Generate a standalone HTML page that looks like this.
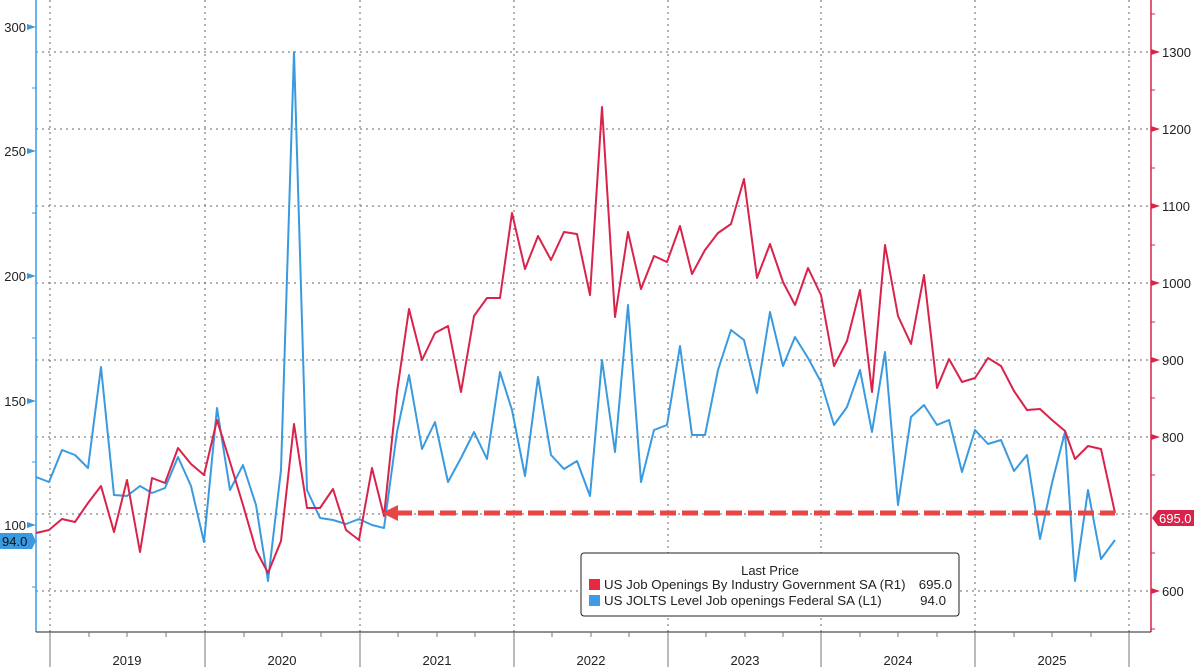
<!DOCTYPE html>
<html><head><meta charset="utf-8"><style>
html,body{margin:0;padding:0;background:#fff;}
svg text{font-family:"Liberation Sans","DejaVu Sans",sans-serif;}
</style></head><body>
<svg width="1194" height="667" viewBox="0 0 1194 667" xmlns="http://www.w3.org/2000/svg">
<rect width="1194" height="667" fill="#fff"/>
<g stroke="#666" stroke-width="1" stroke-dasharray="2,4" fill="none">
<line x1="36" y1="52" x2="1151" y2="52"/><line x1="36" y1="129" x2="1151" y2="129"/>
<line x1="36" y1="206" x2="1151" y2="206"/><line x1="36" y1="283" x2="1151" y2="283"/>
<line x1="36" y1="360" x2="1151" y2="360"/><line x1="36" y1="437" x2="1151" y2="437"/>
<line x1="36" y1="514" x2="1151" y2="514"/><line x1="36" y1="591" x2="1151" y2="591"/>
<line x1="50" y1="0" x2="50" y2="632"/><line x1="205" y1="0" x2="205" y2="632"/>
<line x1="360" y1="0" x2="360" y2="632"/><line x1="514" y1="0" x2="514" y2="632"/>
<line x1="668" y1="0" x2="668" y2="632"/><line x1="821" y1="0" x2="821" y2="632"/>
<line x1="975" y1="0" x2="975" y2="632"/><line x1="1129" y1="0" x2="1129" y2="632"/>
</g>
<line x1="36" y1="0" x2="36" y2="632" stroke="#3a9ae0" stroke-width="1.5"/>
<line x1="1151" y1="0" x2="1151" y2="632" stroke="#d9234a" stroke-width="1.5"/>
<line x1="36" y1="632" x2="1151" y2="632" stroke="#222" stroke-width="1"/>
<g stroke="#777" stroke-width="1">
<line x1="50" y1="632" x2="50" y2="667"/><line x1="205" y1="632" x2="205" y2="667"/>
<line x1="360" y1="632" x2="360" y2="667"/><line x1="514" y1="632" x2="514" y2="667"/>
<line x1="668" y1="632" x2="668" y2="667"/><line x1="821" y1="632" x2="821" y2="667"/>
<line x1="975" y1="632" x2="975" y2="667"/><line x1="1129" y1="632" x2="1129" y2="667"/>
<line x1="89" y1="632" x2="89" y2="637"/><line x1="127" y1="632" x2="127" y2="637"/><line x1="166" y1="632" x2="166" y2="637"/>
<line x1="244" y1="632" x2="244" y2="637"/><line x1="282" y1="632" x2="282" y2="637"/><line x1="321" y1="632" x2="321" y2="637"/>
<line x1="398" y1="632" x2="398" y2="637"/><line x1="437" y1="632" x2="437" y2="637"/><line x1="475" y1="632" x2="475" y2="637"/>
<line x1="552" y1="632" x2="552" y2="637"/><line x1="591" y1="632" x2="591" y2="637"/><line x1="629" y1="632" x2="629" y2="637"/>
<line x1="706" y1="632" x2="706" y2="637"/><line x1="745" y1="632" x2="745" y2="637"/><line x1="783" y1="632" x2="783" y2="637"/>
<line x1="860" y1="632" x2="860" y2="637"/><line x1="898" y1="632" x2="898" y2="637"/><line x1="937" y1="632" x2="937" y2="637"/>
<line x1="1014" y1="632" x2="1014" y2="637"/><line x1="1052" y1="632" x2="1052" y2="637"/><line x1="1091" y1="632" x2="1091" y2="637"/>
</g>
<g font-size="13" fill="#222" text-anchor="middle">
<text x="127" y="665">2019</text><text x="282" y="665">2020</text><text x="437" y="665">2021</text>
<text x="591" y="665">2022</text><text x="745" y="665">2023</text><text x="898" y="665">2024</text><text x="1052" y="665">2025</text>
</g>
<g font-size="13" fill="#222" text-anchor="end">
<text x="26" y="32">300</text><text x="26" y="156">250</text><text x="26" y="281">200</text><text x="26" y="406">150</text><text x="26" y="530">100</text>
</g>
<g fill="#3a9ae0">
<polygon points="27,24 36,27 27,30"/><polygon points="27,148 36,151 27,154"/><polygon points="27,273 36,276 27,279"/><polygon points="27,398 36,401 27,404"/><polygon points="27,522 36,525 27,528"/>
</g>
<g stroke="#3a9ae0"><line x1="32" y1="88" x2="36" y2="88"/><line x1="32" y1="213" x2="36" y2="213"/><line x1="32" y1="338" x2="36" y2="338"/><line x1="32" y1="462" x2="36" y2="462"/><line x1="32" y1="587" x2="36" y2="587"/></g>
<g font-size="13" fill="#222">
<text x="1162" y="57">1300</text><text x="1162" y="134">1200</text><text x="1162" y="211">1100</text><text x="1162" y="288">1000</text><text x="1162" y="365">900</text><text x="1162" y="442">800</text><text x="1162" y="596">600</text>
</g>
<g fill="#d9234a">
<polygon points="1151,49 1160,52 1151,55"/><polygon points="1151,126 1160,129 1151,132"/><polygon points="1151,203 1160,206 1151,209"/><polygon points="1151,280 1160,283 1151,286"/><polygon points="1151,357 1160,360 1151,363"/><polygon points="1151,434 1160,437 1151,440"/><polygon points="1151,588 1160,591 1151,594"/>
</g>
<g stroke="#d9234a"><line x1="1151" y1="14" x2="1155" y2="14"/><line x1="1151" y1="90" x2="1155" y2="90"/><line x1="1151" y1="168" x2="1155" y2="168"/><line x1="1151" y1="245" x2="1155" y2="245"/><line x1="1151" y1="322" x2="1155" y2="322"/><line x1="1151" y1="398" x2="1155" y2="398"/><line x1="1151" y1="475" x2="1155" y2="475"/><line x1="1151" y1="553" x2="1155" y2="553"/><line x1="1151" y1="629" x2="1155" y2="629"/></g>
<polyline fill="none" stroke="#3a9ae0" stroke-width="2" stroke-linejoin="round" points="36,477 49,482 62,450 75,455 88,468 101,367 114,495 127,496 140,486 152,493 165,488 178,457 191,486 204,542 217,408 230,490 243,465 256,505 268,581 281,470 294,52 307,490 320,518 333,520 346,524 359,519 372,525 384,528 397,432 409,375 422,449 435,422 448,482 461,458 474,432 487,459 500,372 512,410 525,476 538,377 551,455 564,469 577,461 590,496 602,360 615,452 628,305 641,482 654,430 667,425 680,346 692,435 705,435 718,370 731,330 744,340 757,393 770,312 783,366 795,337 808,358 821,382 834,425 847,407 860,370 872,432 885,352 898,505 911,417 924,405 937,425 949,420 962,472 975,430 988,444 1001,440 1014,471 1027,455 1040,539 1052,483 1065,432 1075,581 1088,490 1101,559 1115,540"/>
<polyline fill="none" stroke="#d9234a" stroke-width="2" stroke-linejoin="round" points="36,533 49,530 62,519 75,522 88,503 101,486 114,532 127,480 140,552 152,478 165,483 178,448 191,464 204,475 217,420 230,462 243,505 256,550 268,573 281,541 294,424 307,508 320,508 333,489 346,530 359,540 372,468 384,516 397,392 409,309 422,360 435,333 448,326 461,392 474,316 487,298 500,298 512,213 525,269 538,236 551,260 564,232 577,234 590,295 602,107 615,317 628,232 641,289 654,256 667,262 680,226 692,274 705,250 718,233 731,224 744,179 757,278 770,244 783,282 795,305 808,268 821,295 834,366 847,341 860,290 872,392 885,245 898,316 911,344 924,275 937,388 949,359 962,382 975,378 988,358 1001,366 1014,391 1027,410 1040,409 1052,420 1065,431 1075,459 1088,446 1101,449 1115,513"/>
<line x1="396" y1="513" x2="1115" y2="513" stroke="#e84545" stroke-width="5" stroke-dasharray="16,6"/>
<polygon points="382,513 398,505 398,521" fill="#e84545"/>
<polygon points="0,533 32,533 36,541 32,549 0,549" fill="#3a9ae0"/>
<text x="2" y="546" font-size="13" fill="#111">94.0</text>
<polygon points="1152,518 1158,510 1194,510 1194,526 1158,526" fill="#d9234a"/>
<text x="1159" y="523" font-size="13" fill="#fff">695.0</text>
<rect x="581" y="553" width="378" height="63" rx="3" fill="#fff" stroke="#222" stroke-width="1"/>
<text x="770" y="575" font-size="13" fill="#222" text-anchor="middle">Last Price</text>
<rect x="589" y="579" width="11" height="11" fill="#e8283f"/>
<rect x="589" y="595" width="11" height="11" fill="#3d9be9"/>
<g font-size="13.3" fill="#222">
<text x="604" y="589">US Job Openings By Industry Government SA  (R1)</text>
<text x="952" y="589" text-anchor="end">695.0</text>
<text x="604" y="605">US JOLTS Level Job openings Federal SA  (L1)</text>
<text x="946" y="605" text-anchor="end">94.0</text>
</g>
</svg>
</body></html>
